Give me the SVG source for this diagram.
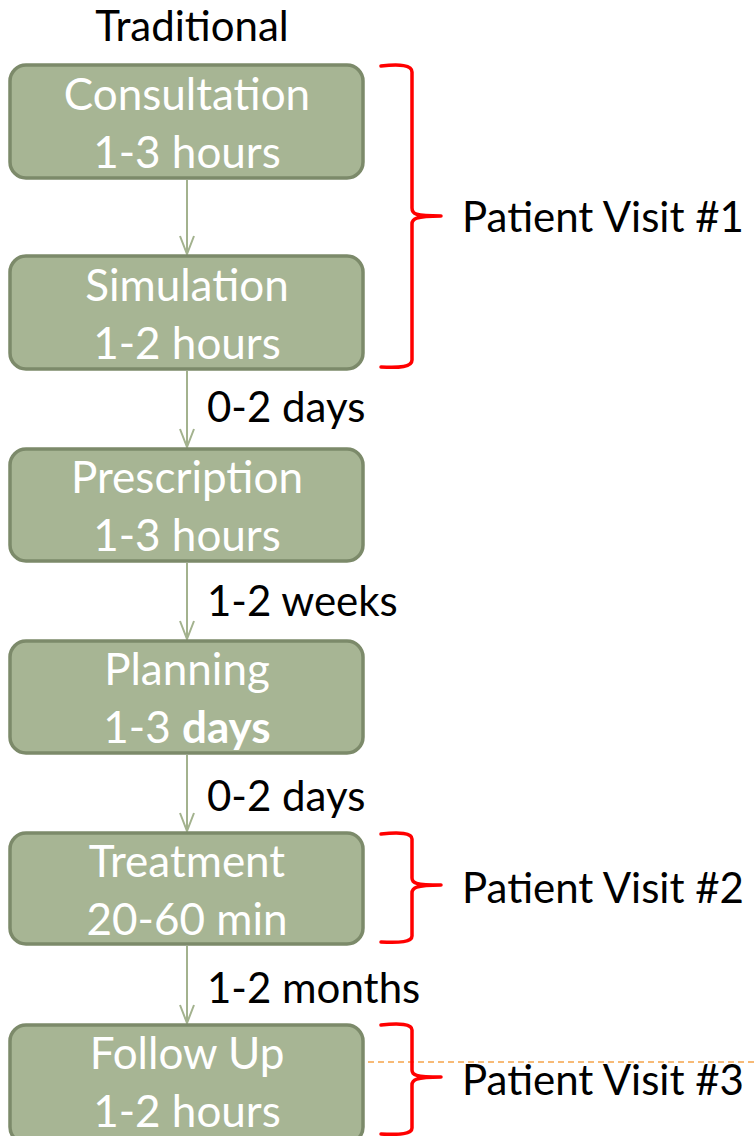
<svg xmlns="http://www.w3.org/2000/svg" width="756" height="1136" viewBox="0 0 756 1136">
  <defs>
    <marker id="arrow" viewBox="0 0 20 16" refX="19" refY="8" markerWidth="20" markerHeight="16" markerUnits="userSpaceOnUse" orient="auto">
      <path d="M1,1 L19,8 L1,15" fill="none" stroke="#a3b28e" stroke-width="2"/>
    </marker>
    <style>
      .box { fill: #a7b594; stroke: #7c8a6a; stroke-width: 3.5; }
      .boxtxt { font-family: "Lato", "Liberation Sans", sans-serif; font-size: 44px; fill: #ffffff; text-anchor: middle; }
      .lbl { font-family: "Lato", "Liberation Sans", sans-serif; font-size: 42px; fill: #000000; }
      .conn { stroke: #a3b28e; stroke-width: 2; fill: none; }
      .brace { stroke: #ff0000; stroke-width: 3.5; fill: none; stroke-linejoin: round; stroke-linecap: round; }
    </style>
  </defs>

  <rect width="756" height="1136" fill="#ffffff"/>

  <text class="lbl" x="192" y="41" text-anchor="middle" font-size="44">Traditional</text>

  <!-- connectors -->
  <g id="connectors">
    <line class="conn" x1="187" y1="180" x2="187" y2="254" marker-end="url(#arrow)"/>
    <line class="conn" x1="187" y1="371" x2="187" y2="447" marker-end="url(#arrow)"/>
    <line class="conn" x1="187" y1="563" x2="187" y2="639" marker-end="url(#arrow)"/>
    <line class="conn" x1="187" y1="755" x2="187" y2="831" marker-end="url(#arrow)"/>
    <line class="conn" x1="187" y1="946" x2="187" y2="1023" marker-end="url(#arrow)"/>
    <text class="lbl" x="207" y="422">0-2 days</text>
    <text class="lbl" x="207" y="616">1-2 weeks</text>
    <text class="lbl" x="207" y="811">0-2 days</text>
    <text class="lbl" x="207" y="1003">1-2 months</text>
  </g>

  <g id="consultation">
    <rect class="box" x="10" y="65" width="353" height="113" rx="16"/>
    <text class="boxtxt" x="187" y="110">Consultation</text>
    <text class="boxtxt" x="187" y="168">1-3 hours</text>
  </g>

  <g id="simulation">
    <rect class="box" x="10" y="256" width="353" height="113" rx="16"/>
    <text class="boxtxt" x="187" y="301">Simulation</text>
    <text class="boxtxt" x="187" y="359">1-2 hours</text>
  </g>

  <g id="prescription">
    <rect class="box" x="10" y="449" width="353" height="112" rx="16"/>
    <text class="boxtxt" x="187" y="493">Prescription</text>
    <text class="boxtxt" x="187" y="551">1-3 hours</text>
  </g>

  <g id="planning">
    <rect class="box" x="10" y="641" width="353" height="112" rx="16"/>
    <text class="boxtxt" x="187" y="685">Planning</text>
    <text class="boxtxt" x="187" y="743">1-3 <tspan font-weight="bold">days</tspan></text>
  </g>

  <g id="treatment">
    <rect class="box" x="10" y="833" width="353" height="111" rx="16"/>
    <text class="boxtxt" x="187" y="877">Treatment</text>
    <text class="boxtxt" x="187" y="935">20-60 min</text>
  </g>

  <g id="followup">
    <rect class="box" x="10" y="1025" width="353" height="118" rx="16"/>
    <text class="boxtxt" x="187" y="1069">Follow Up</text>
    <text class="boxtxt" x="187" y="1127">1-2 hours</text>
  </g>

  <!-- dashed guide on the last row -->
  <line x1="368" y1="1062" x2="756" y2="1062" stroke="#f5a44a" stroke-width="1.5" stroke-dasharray="6,4"/>

  <g id="visit1">
    <path class="brace" d="M381,66 C400,64 412,65 412,72 L412,208 C412,214 415,216 441,216 C415,216 412,219 412,224 L412,360 C412,367 400,368 381,367"/>
    <text class="lbl" x="462" y="232">Patient Visit #1</text>
  </g>

  <g id="visit2">
    <path class="brace" d="M381,834 C400,832 412,833 412,839 L412,878 C412,883 415,885 441,885 C415,885 412,888 412,893 L412,936 C412,942 400,943 381,942"/>
    <text class="lbl" x="462" y="903">Patient Visit #2</text>
  </g>

  <g id="visit3">
    <path class="brace" d="M381,1025 C400,1023 412,1024 412,1030 L412,1070 C412,1075 415,1077 441,1077 C415,1077 412,1080 412,1085 L412,1128 C412,1134 400,1135 381,1134"/>
    <text class="lbl" x="462" y="1095">Patient Visit #3</text>
  </g>
</svg>
